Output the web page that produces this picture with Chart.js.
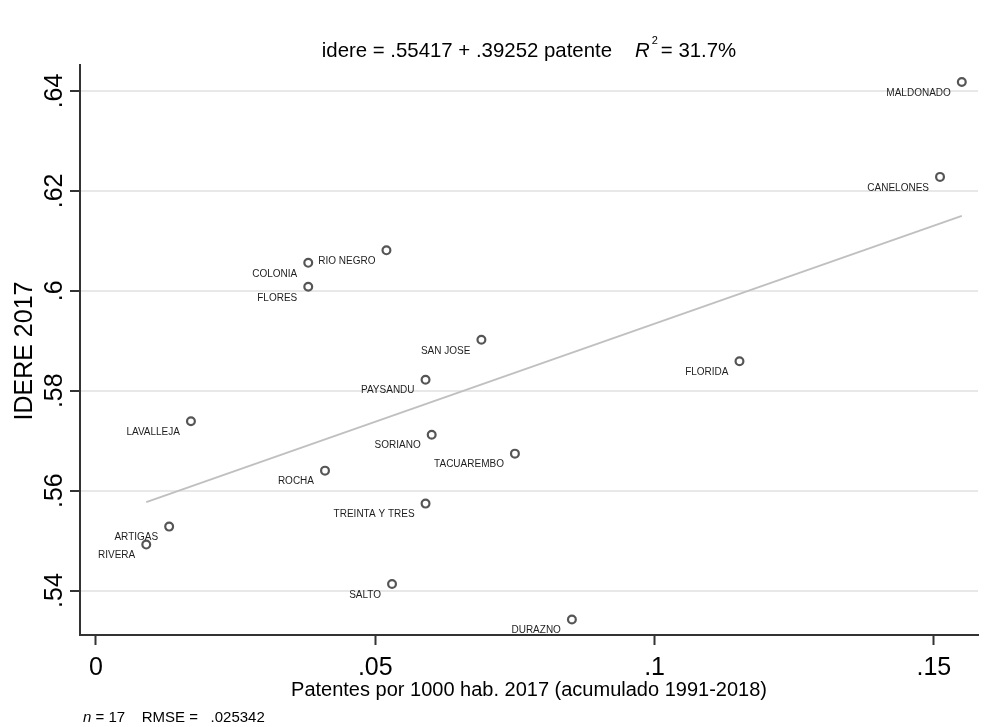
<!DOCTYPE html>
<html>
<head>
<meta charset="utf-8">
<script src="https://cdn.jsdelivr.net/npm/chart.js@4/dist/chart.umd.min.js"></script>
<style>
  html, body { margin: 0; padding: 0; background: #ffffff; }
  canvas { display: block; }
</style>
</head>
<body>
<canvas id="c" width="995" height="727"></canvas>
<script>
// ---- Data ----
const departments = ["MALDONADO","CANELONES","FLORIDA","SAN JOSE","PAYSANDU","SORIANO","TACUAREMBO","ROCHA","TREINTA Y TRES","SALTO","DURAZNO","RIO NEGRO","COLONIA","FLORES","LAVALLEJA","ARTIGAS","RIVERA"];
const patentes = [0.1550, 0.1511, 0.1152, 0.0690, 0.0590, 0.0601, 0.0750, 0.0410, 0.0590, 0.0530, 0.0852, 0.0520, 0.0380, 0.0380, 0.0170, 0.0131, 0.0090];
const idere    = [0.6418, 0.6228, 0.5859, 0.5902, 0.5822, 0.5712, 0.5674, 0.5640, 0.5574, 0.5413, 0.5342, 0.6081, 0.6056, 0.6008, 0.5739, 0.5528, 0.5492];
const fitX = [0.0090, 0.1550];
const fitY = [0.5577, 0.6150];
const xTicks = [0, 0.05, 0.10, 0.15];
const xTickLabels = ["0", ".05", ".1", ".15"];
const yTicks = [0.54, 0.56, 0.58, 0.60, 0.62, 0.64];
const yTickLabels = [".54", ".56", ".58", ".6", ".62", ".64"];
const titleMain = "idere = .55417 + .39252 patente";
const titleR = "R";
const titleSup = "2";
const titleRest = "= 31.7%";
const xTitle = "Patentes por 1000 hab. 2017 (acumulado 1991-2018)";
const yTitle = "IDERE 2017";
const noteN = "n";
const noteRest = " = 17    RMSE =   .025342";

const FONT = '"Liberation Sans", Arial, sans-serif';

const textPlugin = {
  id: 'texts',
  afterDatasetsDraw(chart) {
    const ctx = chart.ctx;
    const xs = chart.scales.x, ys = chart.scales.y;
    const area = chart.chartArea;
    ctx.save();
    // point labels (position 7: left-below)
    ctx.font = '10px ' + FONT;
    ctx.fillStyle = '#1e1e1e';
    ctx.textAlign = 'right';
    ctx.textBaseline = 'middle';
    const meta = chart.getDatasetMeta(0);
    meta.data.forEach((pt, i) => ctx.fillText(departments[i], pt.x - 11, pt.y + 11));

    // x tick labels
    ctx.font = '25px ' + FONT;
    ctx.fillStyle = '#000';
    ctx.textAlign = 'center';
    ctx.textBaseline = 'alphabetic';
    xTicks.forEach((v, i) => ctx.fillText(xTickLabels[i], xs.getPixelForValue(v), 675));

    // y tick labels (rotated)
    yTicks.forEach((v, i) => {
      ctx.save();
      ctx.translate(62, ys.getPixelForValue(v));
      ctx.rotate(-Math.PI / 2);
      ctx.fillText(yTickLabels[i], 0, 0);
      ctx.restore();
    });

    // y title
    ctx.save();
    ctx.font = '25px ' + FONT;
    ctx.translate(32, 351);
    ctx.rotate(-Math.PI / 2);
    ctx.fillText(yTitle, 0, 0);
    ctx.restore();

    // x title
    ctx.font = '20px ' + FONT;
    ctx.fillText(xTitle, (area.left + area.right) / 2, 696);

    // title with italic R and superscript 2
    const TS = '20.4px ';
    ctx.textAlign = 'left';
    ctx.font = TS + FONT;
    const wMain = ctx.measureText(titleMain).width;
    const gap = 23;
    ctx.font = 'italic ' + TS + FONT;
    const wR = ctx.measureText(titleR).width;
    ctx.font = '11px ' + FONT;
    const wSup = ctx.measureText(titleSup).width;
    ctx.font = TS + FONT;
    const wRest = ctx.measureText(titleRest).width;
    const total = wMain + gap + wR + 2 + wSup + 3 + wRest;
    let tx = (area.left + area.right) / 2 - total / 2;
    const tb = 57;
    ctx.font = TS + FONT;
    ctx.fillText(titleMain, tx, tb); tx += wMain + gap;
    ctx.font = 'italic ' + TS + FONT;
    ctx.fillText(titleR, tx, tb); tx += wR + 2;
    ctx.font = '11px ' + FONT;
    ctx.fillText(titleSup, tx, tb - 13); tx += wSup + 3;
    ctx.font = TS + FONT;
    ctx.fillText(titleRest, tx, tb);

    // note
    ctx.font = 'italic 15px ' + FONT;
    ctx.fillText(noteN, 83, 722);
    const wn = ctx.measureText(noteN).width;
    ctx.font = '15px ' + FONT;
    ctx.fillText(noteRest, 83 + wn, 722);
    ctx.restore();
  }
};

new Chart(document.getElementById('c'), {
  type: 'scatter',
  data: {
    datasets: [
      {
        label: 'idere',
        data: patentes.map((x, i) => ({ x: x, y: idere[i] })),
        pointStyle: 'circle',
        pointRadius: 3.9,
        pointBorderWidth: 2.2,
        pointBorderColor: '#555555',
        pointBackgroundColor: 'rgba(0,0,0,0)',
        showLine: false,
        order: 1
      },
      {
        label: 'fit',
        data: fitX.map((x, i) => ({ x: x, y: fitY[i] })),
        showLine: true,
        borderColor: '#c0c0c0',
        borderWidth: 2,
        pointRadius: 0,
        fill: false,
        order: 2
      }
    ]
  },
  options: {
    responsive: false,
    animation: false,
    devicePixelRatio: 1,
    layout: { padding: { left: 0, top: 65, right: 17, bottom: 0 } },
    plugins: { legend: { display: false }, title: { display: false }, tooltip: { enabled: false } },
    scales: {
      x: {
        type: 'linear',
        min: -0.00286,
        max: 0.1579,
        afterBuildTicks: (s) => { s.ticks = xTicks.map(v => ({ value: v })); },
        afterFit: (s) => { s.height = 92; },
        ticks: { display: false },
        grid: { drawOnChartArea: false, drawTicks: true, tickLength: 10, tickColor: '#333', tickWidth: 2 },
        border: { display: true, color: '#333', width: 2 }
      },
      y: {
        type: 'linear',
        min: 0.5311,
        max: 0.6452,
        afterBuildTicks: (s) => { s.ticks = yTicks.map(v => ({ value: v })); },
        afterFit: (s) => { s.width = 80; },
        ticks: { display: false },
        grid: { drawOnChartArea: true, color: '#e8e8e8', lineWidth: 2, drawTicks: true, tickLength: 10, tickColor: '#333', tickWidth: 2 },
        border: { display: true, color: '#333', width: 2 }
      }
    }
  },
  plugins: [textPlugin]
});
</script>
</body>
</html>
